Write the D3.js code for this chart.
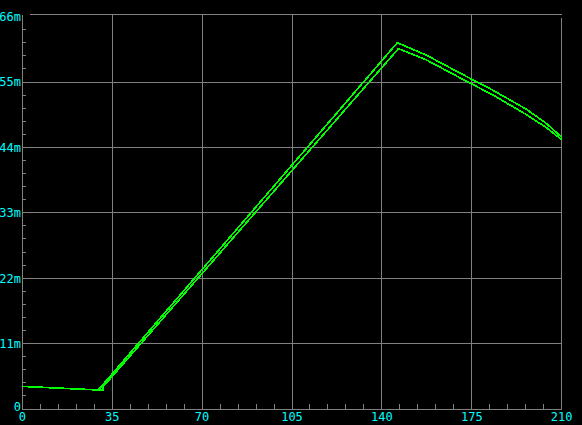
<!DOCTYPE html>
<html>
<head>
<meta charset="utf-8">
<script src="https://cdn.jsdelivr.net/npm/d3@7"></script>
<style>
  html, body { margin: 0; padding: 0; background: #000; }
  svg { display: block; }
  text { font-family: "DejaVu Sans Mono", monospace; font-size: 12px; fill: #00ffff; }
</style>
</head>
<body>
<div id="chart"></div>
<script>
// tick values
const xTicks = [0, 35, 70, 105, 140, 175, 210];
const yTicks = [0, 11, 22, 33, 44, 55, 66];
const yLabels = ['0', '11m', '22m', '33m', '44m', '55m', '66m'];

// upper trace
const upperX = [0, 29.6, 146.0, 157.4, 170.4, 183.3, 196.3, 204.1, 210];
const upperY = [3.8, 3.2, 61.6, 59.5, 56.5, 53.6, 50.4, 48.0, 45.7];

// lower trace
const lowerX = [0, 29.6, 31.5, 31.5, 146.4, 157.4, 170.4, 183.3, 196.3, 204.1, 210];
const lowerY = [3.8, 3.2, 3.2, 3.75, 60.6, 58.7, 55.7, 52.8, 49.5, 47.3, 45.3];

const width = 582, height = 425;
const grey = '#808080', green = '#00ff00';

const svg = d3.select('#chart')
    .append('svg')
    .attr('width', width)
    .attr('height', height);

svg.append('rect')
    .attr('width', width)
    .attr('height', height)
    .attr('fill', '#000');

const x = d3.scaleLinear().domain([0, 210]).range([22.3, 561.7]);
const y = d3.scaleLinear().domain([0, 66]).range([409, 16.6]);

const grid = svg.append('g')
    .attr('stroke', grey)
    .attr('stroke-width', 1)
    .attr('shape-rendering', 'crispEdges');

// frame top line
grid.append('line')
    .attr('x1', 30).attr('x2', x(210))
    .attr('y1', 14.5).attr('y2', 14.5);

// vertical grid lines
grid.selectAll('.vgrid')
    .data(xTicks.slice(1))
    .enter().append('line')
    .attr('class', 'vgrid')
    .attr('x1', d => x(d)).attr('x2', d => x(d))
    .attr('y1', d => d === 210 ? 18 : 14.5)
    .attr('y2', y(0));

// horizontal grid lines
grid.selectAll('.hgrid')
    .data(yTicks.slice(1, -1))
    .enter().append('line')
    .attr('class', 'hgrid')
    .attr('x1', x(0)).attr('x2', x(210))
    .attr('y1', d => y(d)).attr('y2', d => y(d));

// axes
grid.append('line')
    .attr('x1', x(0)).attr('x2', x(0))
    .attr('y1', 15).attr('y2', y(0));
grid.append('line')
    .attr('x1', x(0)).attr('x2', x(210))
    .attr('y1', y(0)).attr('y2', y(0));

// minor ticks
const xMinor = d3.range(0, 211, 7).filter(d => d % 35 !== 0);
grid.selectAll('.xminor')
    .data(xMinor)
    .enter().append('line')
    .attr('x1', d => x(d)).attr('x2', d => x(d))
    .attr('y1', y(0) - 5).attr('y2', y(0));

const yMinor = d3.range(0, 66.01, 2.2).filter(d => Math.abs(d / 11 - Math.round(d / 11)) > 0.01);
grid.selectAll('.yminor')
    .data(yMinor)
    .enter().append('line')
    .attr('x1', x(0)).attr('x2', x(0) + 3.5)
    .attr('y1', d => y(d)).attr('y2', d => y(d));

// tick labels
svg.selectAll('.ylabel')
    .data(yTicks)
    .enter().append('text')
    .attr('class', 'ylabel')
    .attr('x', 21)
    .attr('y', d => Math.min(y(d) + 4.3, 411))
    .attr('text-anchor', 'end')
    .text((d, i) => yLabels[i]);

svg.selectAll('.xlabel')
    .data(xTicks)
    .enter().append('text')
    .attr('class', 'xlabel')
    .attr('x', d => x(d))
    .attr('y', 421)
    .attr('text-anchor', 'middle')
    .text(d => d);

// traces
const line = d3.line()
    .x(d => x(d[0]))
    .y(d => y(d[1]));

[[upperX, upperY], [lowerX, lowerY]].forEach(([xs, ys]) => {
    svg.append('path')
        .datum(xs.map((v, i) => [v, ys[i]]))
        .attr('d', line)
        .attr('fill', 'none')
        .attr('stroke', green)
        .attr('stroke-width', 1.7)
        .attr('shape-rendering', 'crispEdges');
});
</script>
</body>
</html>
